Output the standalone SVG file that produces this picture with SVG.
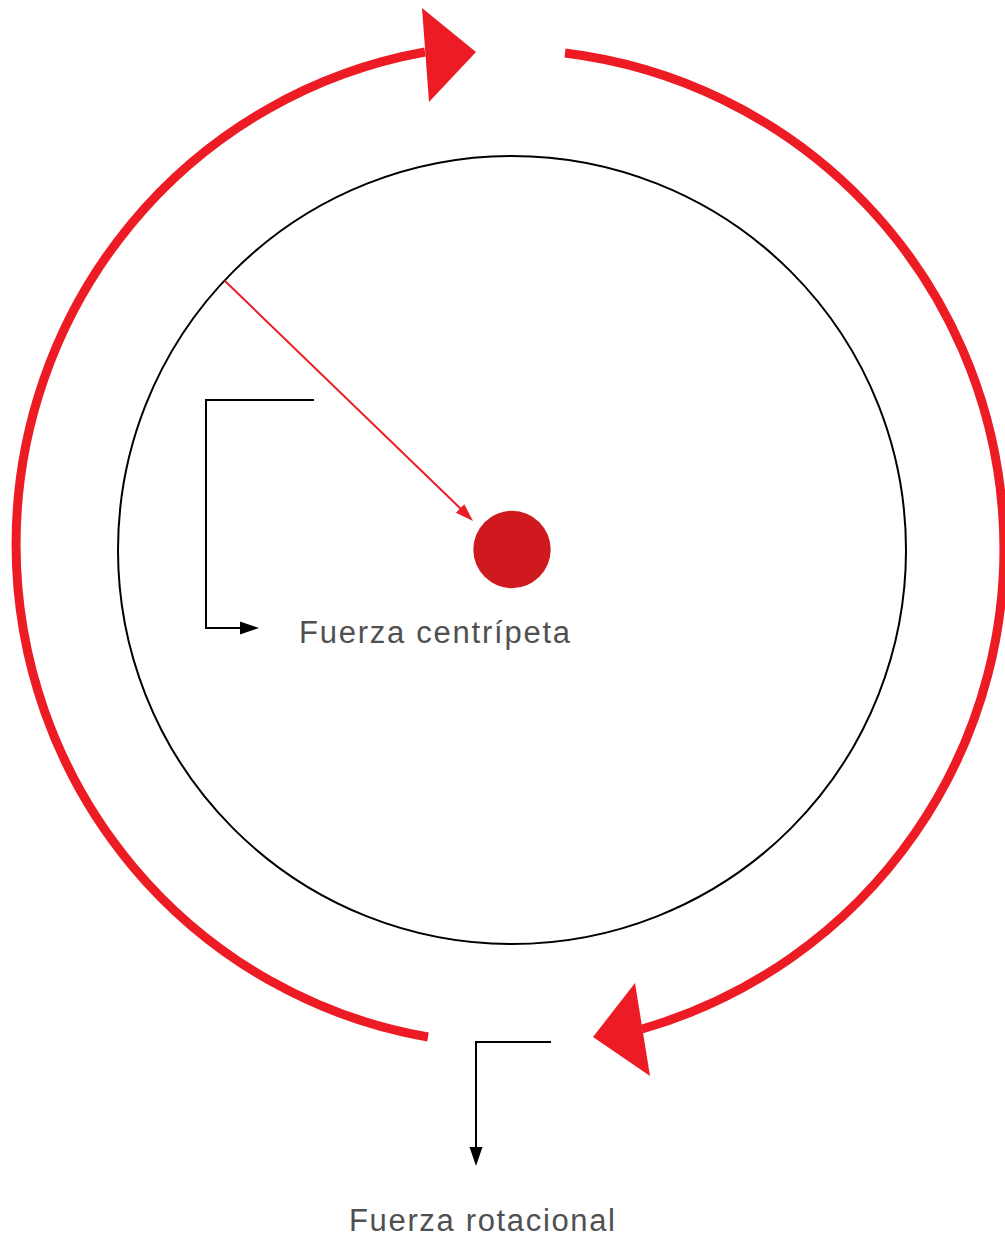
<svg xmlns="http://www.w3.org/2000/svg" width="1005" height="1238" viewBox="0 0 1005 1238">
<style>
.big{fill:none;stroke:#ed1c24;stroke-width:9}
.red{fill:#ed1c24}
.blk{fill:none;stroke:#000;stroke-width:2}
.lbl{font-family:"Liberation Sans",Arial,sans-serif;font-size:31px;fill:#505050}
</style>
<rect width="1005" height="1238" fill="#fff"/>
<g id="rotation">
<path class="big" d="M 428 1037 A 496 500 0 0 1 425 52"/>
<polygon class="red" points="422,8 476,52 429,102"/>
<path class="big" d="M 565 53 A 499.5 499.5 0 0 1 642 1029"/>
<polygon class="red" points="635,983 593,1037 650,1076"/>
</g>
<g id="orbit">
<circle cx="512" cy="550" r="394" fill="none" stroke="#000" stroke-width="2"/>
</g>
<g id="mass">
<circle cx="512" cy="549.5" r="38.7" fill="#d0181f"/>
</g>
<g id="connectors">
<line x1="225" y1="281" x2="462" y2="510" stroke="#ed1c24" stroke-width="2"/>
<polygon class="red" points="473,521 455.9,512.8 464.3,504.2"/>
<polyline class="blk" points="314,400 206,400 206,628 242,628"/>
<polygon points="259,628 240,621.5 240,634.5" fill="#000"/>
<polyline class="blk" points="551,1042 476,1042 476,1150"/>
<polygon points="476,1166 469.5,1147 482.5,1147" fill="#000"/>
</g>
<g id="label-centripeta">
<text class="lbl" x="299" y="643" textLength="271" lengthAdjust="spacing">Fuerza centrípeta</text>
</g>
<g id="label-rotacional">
<text class="lbl" x="349" y="1231" textLength="266" lengthAdjust="spacing">Fuerza rotacional</text>
</g>
</svg>
